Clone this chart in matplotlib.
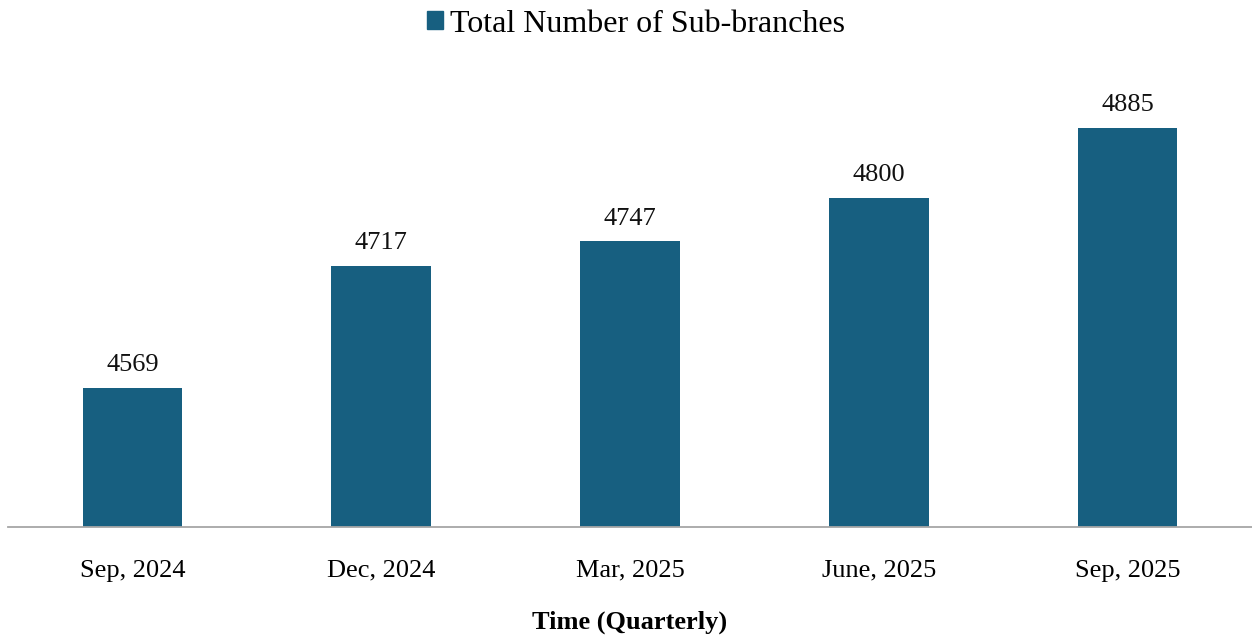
import matplotlib
matplotlib.use("Agg")
import matplotlib.pyplot as plt
from matplotlib.patches import Patch

categories = ["Sep, 2024", "Dec, 2024", "Mar, 2025", "June, 2025", "Sep, 2025"]
values = [4569, 4717, 4747, 4800, 4885]
series_name = "Total Number of Sub-branches"
xlabel = "Time (Quarterly)"

color = "#175f80"
plt.rcParams["font.family"] = ["Liberation Serif", "DejaVu Serif"]

fig = plt.figure(figsize=(12.52, 6.35), dpi=100)
ax = fig.add_axes([8/1252, 1-527/635, 1244/1252, (527-60)/635])

x = list(range(len(categories)))
bars = ax.bar(x, values, width=0.4, color=color, zorder=2)
ax.set_xlim(-0.5, len(categories)-0.5)
ax.set_ylim(4400, 4400 + (527-60)/0.8228)

for xi, v in zip(x, values):
    ax.annotate(str(v), (xi, v), xytext=(0, 8.5), textcoords="offset points",
                ha="center", va="bottom", fontsize=19, color="#111111")

for s in ["top", "right", "left"]:
    ax.spines[s].set_visible(False)
ax.spines["bottom"].set_color("#a6a6a6")
ax.spines["bottom"].set_linewidth(1.3)
ax.set_yticks([])
ax.set_xticks(x)
ax.set_xticklabels(categories, fontsize=19)
ax.tick_params(axis="x", length=0, pad=23.5)
ax.set_xlabel(xlabel, fontsize=19, fontweight="bold", labelpad=21)

fig.legend(handles=[Patch(color=color, label=series_name)], loc="center",
           bbox_to_anchor=(0.508, 1-24/635), frameon=False, fontsize=23,
           handlelength=0.5, handleheight=0.5, handletextpad=0.25)

fig.savefig("out.png", dpi=100)
